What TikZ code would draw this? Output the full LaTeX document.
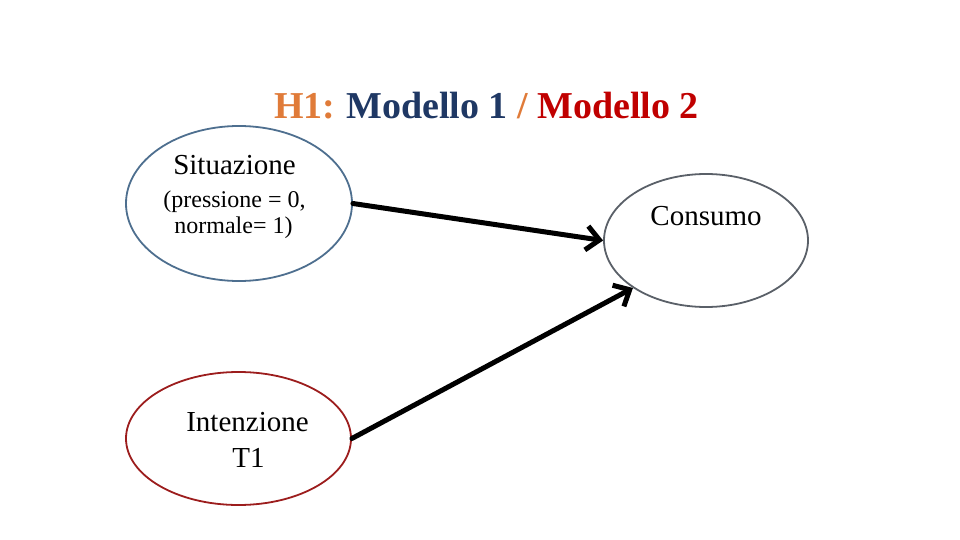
\documentclass[tikz,border=0pt]{standalone}
\usepackage{fontspec}
\setmainfont{Liberation Serif}
\usetikzlibrary{shapes.geometric,arrows.meta}
\definecolor{hOrange}{HTML}{E07B39}
\definecolor{hBlue}{HTML}{1F3864}
\definecolor{hRed}{HTML}{C00000}
\definecolor{sitBlue}{HTML}{4E6F8F}
\definecolor{intRed}{HTML}{9C1D1D}
\definecolor{conGray}{HTML}{5A6068}
\tikzset{
  bubble/.style={ellipse, draw, line width=1.8pt, inner sep=0pt},
  lbl/.style={anchor=base, inner sep=0pt, font=\fontsize{29}{32}\selectfont},
  sublbl/.style={anchor=base, inner sep=0pt, font=\fontsize{24}{27}\selectfont},
  link/.style={line width=5pt, -{Straight Barb[length=13pt,width=24pt]}, line cap=round, line join=round}
}
\begin{document}
\begin{tikzpicture}[x=1pt,y=-1pt]
\useasboundingbox (0,0) rectangle (960,540);
\node[anchor=base, inner sep=0pt, font=\bfseries\fontsize{38}{42}\selectfont] (title) at (486.5,119)
  {\textcolor{hOrange}{H1:}\hspace{-2pt} \textcolor{hBlue}{Modello 1} \textcolor{hOrange}{/} \textcolor{hRed}{Modello 2}};
\node[bubble, draw=sitBlue, minimum width=226pt, minimum height=155pt] (sit) at (239,203.5) {};
\node[bubble, draw=intRed, minimum width=225pt, minimum height=133pt] (int) at (238.5,438.5) {};
\node[bubble, draw=conGray, minimum width=204pt, minimum height=133pt] (con) at (706,240.5) {};
\node[lbl] (sitA) at (234.5,175) {Situazione};
\node[sublbl] (sitB) at (234.5,207) {(pressione = 0,};
\node[sublbl] (sitC) at (233.5,233) {normale= 1)};
\node[lbl] (intA) at (247.5,431) {Intenzione};
\node[lbl] (intB) at (248.5,467) {T1};
\node[lbl] (conA) at (706,225) {Consumo};
\draw[link] (sit.east) -- (con.west);
\draw[link] (int.east) -- (con.213);
\end{tikzpicture}
\end{document}
